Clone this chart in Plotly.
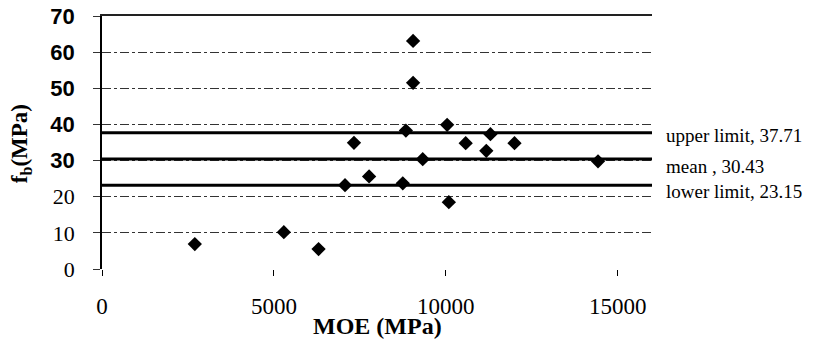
import plotly.graph_objects as go

# Data
moe = [2700, 5290, 6300, 7070, 7770, 8750, 10090, 9050, 9050, 7330,
       8840, 10040, 9330, 10580, 11300, 11180, 12000, 14430]
fb = [6.9, 10.2, 5.5, 23.2, 25.6, 23.7, 18.5, 63.1, 51.5, 34.9,
      38.3, 39.9, 30.4, 34.8, 37.3, 32.7, 34.8, 29.8]

limit_names = ["upper limit, 37.71", "mean , 30.43", "lower limit, 23.15"]
limit_values = [37.71, 30.43, 23.15]
limit_label_shift = [-3, -7, -6]

x_range = [0, 16000]
y_range = [0, 70]
x_ticks = [0, 5000, 10000, 15000]
x_ticktext = ["0", "5000", "10000", "15000"]
y_ticks = [0, 10, 20, 30, 40, 50, 60, 70]
y_ticktext = ["<span style='font-family:Liberation Serif'>0</span>",
              "<span style='font-family:Liberation Serif'>10</span>",
              "<span style='font-family:Liberation Serif'>20</span>",
              "<b>30</b>", "<b>40</b>", "<b>50</b>", "<b>60</b>", "<b>70</b>"]

fig = go.Figure()

for name, val in zip(limit_names, limit_values):
    fig.add_trace(go.Scatter(x=x_range, y=[val, val], mode="lines",
                             line=dict(color="black", width=3),
                             showlegend=False, hoverinfo="skip"))

fig.add_trace(go.Scatter(x=moe, y=fb, mode="markers",
                         marker=dict(symbol="diamond", size=11, color="black"),
                         showlegend=False))

for name, val, sh in zip(limit_names, limit_values, limit_label_shift):
    fig.add_annotation(x=1, xref="paper", y=val, yref="y", text=name,
                       showarrow=False, xanchor="left", yanchor="middle",
                       xshift=12, yshift=sh,
                       font=dict(family="Liberation Serif", size=19, color="black"))

# axis titles
fig.add_annotation(x=0.5, xref="paper", y=-0.225, yref="paper",
                   text="<b>MOE (MPa)</b>", showarrow=False,
                   xanchor="center", yanchor="middle",
                   font=dict(family="Liberation Serif", size=24, color="black"))
fig.add_annotation(x=-0.147, xref="paper", y=0.494, yref="paper",
                   text="<b>f<sub>b</sub>(MPa)</b>", showarrow=False, textangle=-90,
                   xanchor="center", yanchor="middle",
                   font=dict(family="Liberation Serif", size=23, color="black"))

fig.update_layout(
    width=827, height=357,
    margin=dict(l=102, r=175, t=16, b=88, autoexpand=False),
    paper_bgcolor="white", plot_bgcolor="white",
    font=dict(family="Liberation Serif", color="black"),
    xaxis=dict(range=x_range, tickvals=x_ticks, ticktext=x_ticktext,
               showgrid=False, zeroline=False, automargin=False,
               showline=False, ticks="outside", ticklen=6, tickcolor="black",
               ticklabelstandoff=10,
               tickfont=dict(family="Liberation Serif", size=23, color="black")),
    xaxis2=dict(range=x_range, overlaying="x", side="top", showline=True,
                linecolor="#222222", linewidth=1.5, showticklabels=False,
                ticks="", showgrid=False, zeroline=False, automargin=False),
    yaxis=dict(range=y_range, tickvals=y_ticks, ticktext=y_ticktext,
               showgrid=True, gridcolor="#333333", gridwidth=1, griddash="dashdot",
               zeroline=False, showline=True, linecolor="black", linewidth=1.5,
               ticks="outside", ticklen=7, tickcolor="#333333", automargin=False,
               ticklabelstandoff=14,
               tickfont=dict(family="Liberation Sans", size=22, color="black")),
)
# invisible trace to activate the top axis line
fig.add_trace(go.Scatter(x=x_range, y=y_range, xaxis="x2", mode="markers",
                         marker=dict(opacity=0), showlegend=False, hoverinfo="skip"))

fig.write_html("out.html", config={"displayModeBar": False},
               post_script="document.body.style.margin='0';document.body.style.overflow='hidden';")
